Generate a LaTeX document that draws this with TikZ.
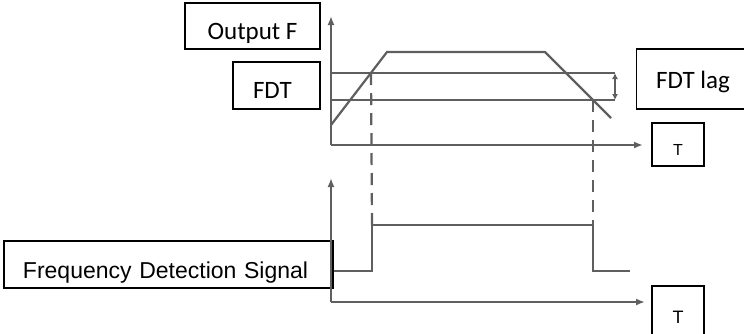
\documentclass[tikz,border=0pt]{standalone}
\usepackage{fontspec}
\setmainfont{Carlito}
\newfontfamily\signalfont{Liberation Sans}
\usetikzlibrary{arrows.meta}

\begin{document}
\begin{tikzpicture}[x=0.5pt, y=-0.5pt, every node/.style={font=\fontsize{12.5}{15}\selectfont}]
  % Colors
  \definecolor{trace}{RGB}{95,95,95}
  \tikzset{
    tag/.style={draw=black, line width=0.7pt, inner sep=0pt, text depth=0pt},
    axis/.style={trace, line width=1.1pt, -{Latex[length=4.5pt, width=3.5pt]}},
    wave/.style={trace, line width=1.1pt},
    guide/.style={trace, line width=1.1pt, dash pattern=on 6pt off 4pt}
  }

  \useasboundingbox (0,0) rectangle (744,333);

  % Labels
  \node[tag, minimum width=67.5pt, minimum height=23pt, text height=13pt] (outF) at (252.5,26) {Output F};
  \node[tag, minimum width=43.5pt, minimum height=23.5pt, text height=13pt, text width=23.5pt, align=left] (fdt) at (276.5,85.5) {FDT};
  \node[tag, minimum width=56.5pt, minimum height=30pt, text height=9pt] (lag) at (693,79) {FDT lag};
  \node[tag, minimum width=26pt, minimum height=21.5pt, text height=11pt, font=\signalfont\fontsize{8}{10}\selectfont] (tUp) at (678,144.5) {T};
  \node[tag, minimum width=164.5pt, minimum height=23.5pt, text height=14pt, text width=145.5pt, align=left,
        font=\signalfont\fontsize{11.5}{13}\selectfont] (sig) at (168.5,264.5) {Frequency Detection Signal};
  \node[tag, minimum width=26pt, minimum height=25pt, text height=12pt, font=\signalfont\fontsize{9}{11}\selectfont] (tDown) at (678,311) {T};

  % Output frequency
  \coordinate (o1) at (331,145);
  \draw[axis] (o1) -- (331,16);
  \draw[axis] (o1) -- (643,145);
  \draw[wave] (331,125) -- (387,52) -- (545,52) -- (611,118);

  % FDT levels and lag
  \coordinate (hi) at (615,73);
  \coordinate (lo) at (615,100);
  \draw[wave] (331,73) -- (hi);
  \draw[wave] (331,100) -- (lo);
  \draw[trace, line width=0.8pt, {Latex[length=3pt, width=3pt]}-{Latex[length=3pt, width=3pt]}] (hi) -- (lo);

  % Detection signal
  \coordinate (o2) at (331,302);
  \coordinate (on) at (372,225);
  \coordinate (off) at (593,225);
  \draw[axis] (o2) -- (331,178);
  \draw[axis] (o2) -- (645,302);
  \draw[wave] (sig.east |- 0,271) -- (on |- 0,271) -- (on) -- (off) -- (off |- 0,271) -- (630,271);

  % Guides
  \draw[guide] (371,73) -- (on);
  \draw[guide] (593,100) -- (off);
\end{tikzpicture}
\end{document}
